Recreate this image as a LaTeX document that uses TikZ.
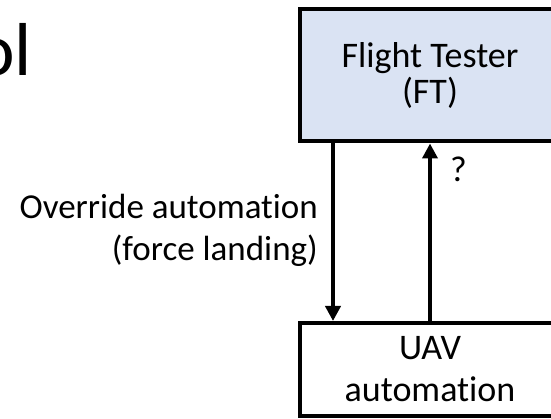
\documentclass[tikz,border=0pt]{standalone}
\usepackage{fontspec}
\setmainfont{Carlito}[Ligatures=NoCommon]
\usetikzlibrary{arrows.meta}
\definecolor{ftfill}{HTML}{DAE3F3}
\tikzset{
  blockbox/.style={draw=black, line width=4pt, rectangle, inner sep=0pt, minimum width=261pt, align=center},
  arr/.style={line width=4pt, -{Triangle[width=15pt,length=15pt]}},
  lbl/.style={inner sep=0pt, font=\fontsize{35}{42}\selectfont}
}
\begin{document}
\begin{tikzpicture}[x=1pt,y=-1pt]
\useasboundingbox (0,0) rectangle (551,419);
\clip (0,0) rectangle (551,419);
\node[inner sep=0pt, anchor=base east, font=\fontsize{75}{80}\selectfont] (title) at (32,76) {ol};
\node[blockbox, fill=ftfill, minimum height=132pt, font=\fontsize{36}{36}\selectfont] (ft) at (430,75.5) {Flight Tester\\(FT)};
\node[blockbox, fill=white, minimum height=92.5pt, font=\fontsize{36}{42}\selectfont] (uav) at (430,369.25) {UAV\\automation};
\coordinate (dn) at (333,0);
\coordinate (up) at (430,0);
\draw[arr] (ft.south -| dn) -- (uav.north -| dn);
\draw[arr] (uav.north -| up) -- (ft.south -| up);
\node[lbl, anchor=east, align=right] (ov) at (318,230) {Override automation\\(force landing)};
\node[inner sep=0pt, anchor=base west, font=\fontsize{36}{36}\selectfont] (q) at (450,182) {?};
\end{tikzpicture}
\end{document}
